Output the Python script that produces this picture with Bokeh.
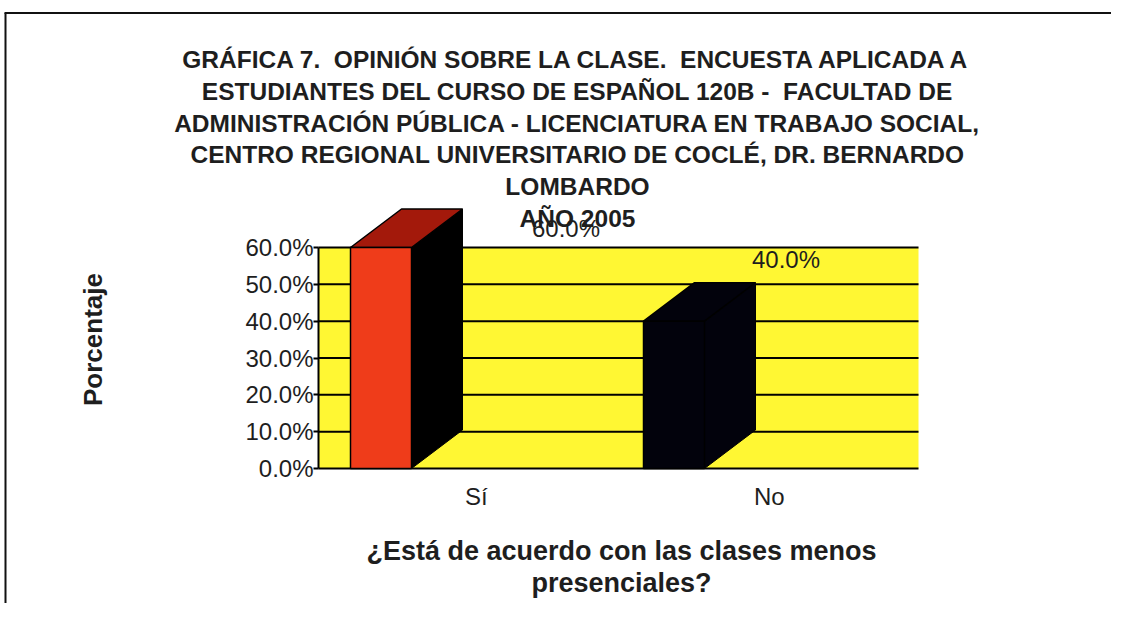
import math
from bokeh.plotting import figure
from bokeh.models import Range1d, FixedTicker, NumeralTickFormatter, Label, ColumnDataSource
from bokeh.core.properties import value
from bokeh.embed import file_html
from bokeh.resources import INLINE

# ---------------- data ----------------
categories = ["Sí", "No"]
percentages = [0.60, 0.40]
y_ticks = [0.0, 0.1, 0.2, 0.3, 0.4, 0.5, 0.6]
title_lines = [
    "GRÁFICA 7.\u00a0 OPINIÓN SOBRE LA CLASE.\u00a0 ENCUESTA APLICADA A",
    "ESTUDIANTES DEL CURSO DE ESPAÑOL 120B -\u00a0 FACULTAD DE",
    "ADMINISTRACIÓN PÚBLICA - LICENCIATURA EN TRABAJO SOCIAL,",
    "CENTRO REGIONAL UNIVERSITARIO DE COCLÉ, DR. BERNARDO",
    "LOMBARDO",
    "AÑO 2005",
]
x_title_lines = ["¿Está de acuerdo con las clases menos", "presenciales?"]
y_title = "Porcentaje"

# ---------------- style ----------------
FONT = "Liberation Sans"
TXT = "#1e1e1e"
front_colors = ["#EF3C1A", "#02020C"]
top_colors = ["#A3190B", "#02020C"]
side_colors = ["#000000", "#02020C"]
wall_color = "#FFF733"

# geometry of the 3-D look (screen pixels)
W, H = 1111, 603
PX_PER_CAT = 293.0      # horizontal distance between categories
PX_PER_UNIT = 368.33    # vertical pixels for 100 %
CAT0_PX = 380.5         # screen x of first category (front-face centre)
ZERO_PX = 468.0         # screen y of 0 %
WALL_L, WALL_R = 318, 918
bar_w = 61 / PX_PER_CAT
depth_x = 51 / PX_PER_CAT
depth_y = 38.5 / PX_PER_UNIT
label_dx = [185, 112]   # data-label offsets (px)
label_dy = [-19, -62]
tick_shift = 0.325      # category label shift (category units)


def dx_of(px):
    return (px - CAT0_PX) / PX_PER_CAT


def dy_of(py):
    return (ZERO_PX - py) / PX_PER_UNIT


p = figure(width=W, height=H,
           x_range=Range1d(dx_of(0), dx_of(W)), y_range=Range1d(dy_of(H), dy_of(0)),
           output_backend="svg", toolbar_location=None,
           min_border_left=0, min_border_right=0, min_border_top=0, min_border_bottom=0,
           background_fill_color="white", border_fill_color="white",
           outline_line_color=None)
p.xgrid.visible = False
p.ygrid.visible = False

# outer chart-area border (top and left edges)
p.segment(x0=[dx_of(4), dx_of(5)], y0=[dy_of(12.5), dy_of(12.5)],
          x1=[dx_of(W), dx_of(5)], y1=[dy_of(12.5), dy_of(H)],
          line_color="#111", line_width=2)

# back wall and gridlines
top_tick = max(y_ticks)
p.quad(left=[dx_of(WALL_L)], right=[dx_of(WALL_R)], bottom=[0], top=[top_tick],
       fill_color=wall_color, line_color=None)
p.segment(x0=[dx_of(WALL_L)] * len(y_ticks), x1=[dx_of(WALL_R)] * len(y_ticks),
          y0=y_ticks, y1=y_ticks, line_color="black", line_width=2)

# 3-D bars built from the data
fx, fy, tx, ty, sx, sy = [], [], [], [], [], []
for i, v in enumerate(percentages):
    l, r = i - bar_w / 2, i + bar_w / 2
    fx.append([l, r, r, l]); fy.append([0, 0, v, v])
    tx.append([l, r, r + depth_x, l + depth_x]); ty.append([v, v, v + depth_y, v + depth_y])
    sx.append([r, r + depth_x, r + depth_x, r]); sy.append([0, depth_y, v + depth_y, v])

p.patches(xs=sx, ys=sy, fill_color=side_colors, line_color="black", line_width=1)
p.patches(xs=tx, ys=ty, fill_color=top_colors, line_color="black", line_width=1.5)
p.patches(xs=fx, ys=fy, fill_color=front_colors, line_color="black", line_width=1.5)

# data labels
lab = ColumnDataSource(dict(x=list(range(len(categories))), y=percentages,
                            t=[f"{v*100:.1f}%" for v in percentages],
                            dx=label_dx, dy=label_dy))
p.text(x="x", y="y", text="t", x_offset="dx", y_offset="dy", source=lab,
       text_font=value(FONT), text_font_size="24px", text_color=TXT,
       text_align="center", text_baseline="middle")

# chart title (six centred lines)
for k, line in enumerate(title_lines):
    p.add_layout(Label(x=dx_of(577), y=dy_of(59 + 31.8 * k), text=line,
                       text_font=FONT, text_font_size="24.5px", text_font_style="bold",
                       text_color=TXT, text_align="center", text_baseline="middle"))

# category-axis title (two centred lines)
for k, line in enumerate(x_title_lines):
    p.add_layout(Label(x=dx_of(621), y=dy_of(550 + 32 * k), text=line,
                       text_font=FONT, text_font_size="27px", text_font_style="bold",
                       text_color=TXT, text_align="center", text_baseline="middle"))

# value-axis title
p.add_layout(Label(x=dx_of(92), y=dy_of(339), text=y_title, angle=math.pi / 2,
                   text_font=FONT, text_font_size="26px", text_font_style="bold",
                   text_color=TXT, text_align="center", text_baseline="middle"))

# y axis (fixed at the left edge of the wall)
ya = p.yaxis[0]
ya.fixed_location = dx_of(WALL_L)
ya.ticker = FixedTicker(ticks=y_ticks)
ya.formatter = NumeralTickFormatter(format="0.0%")
ya.bounds = (0, top_tick)
ya.axis_line_width = 2
ya.axis_line_color = "black"
ya.major_tick_out = 5
ya.major_tick_in = 0
ya.major_tick_line_width = 2
ya.minor_tick_line_color = None
ya.major_label_standoff = 0
ya.major_label_text_font = FONT
ya.major_label_text_font_size = "24px"
ya.major_label_text_color = TXT

# x axis (category labels only, fixed at 0 %)
xa = p.xaxis[0]
xa.fixed_location = 0
xt = [i + tick_shift for i in range(len(categories))]
xa.ticker = FixedTicker(ticks=xt)
xa.major_label_overrides = {t: c for t, c in zip(xt, categories)}
xa.axis_line_color = None
xa.major_tick_line_color = None
xa.minor_tick_line_color = None
xa.major_label_standoff = 8
xa.major_label_text_font = FONT
xa.major_label_text_font_size = "24px"
xa.major_label_text_color = TXT

open("out.html", "w").write(file_html(p, INLINE))
